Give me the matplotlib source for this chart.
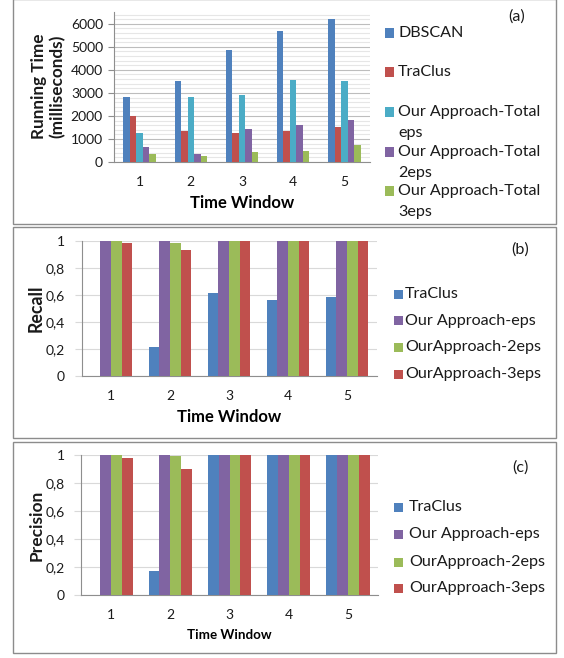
import matplotlib
matplotlib.use("Agg")
import matplotlib.pyplot as plt
from matplotlib.patches import Rectangle
import numpy as np

plt.rcParams['font.family'] = ['Lato', 'DejaVu Sans']

# ---- data -------------------------------------------------------------
windows = ["1", "2", "3", "4", "5"]

# (a) running time in milliseconds
rt_names = ["DBSCAN", "TraClus", "Our Approach-Total\neps",
            "Our Approach-Total\n2eps", "Our Approach-Total\n3eps"]
rt_dbscan = [2830, 3530, 4870, 5700, 6190]
rt_traclus = [2000, 1350, 1260, 1330, 1540]
rt_total_eps = [1280, 2810, 2910, 3570, 3520]
rt_total_2eps = [650, 360, 1430, 1610, 1830]
rt_total_3eps = [350, 280, 430, 490, 740]

# (b) recall and (c) precision
q_names = ["TraClus", "Our Approach-eps", "OurApproach-2eps", "OurApproach-3eps"]
recall_traclus = [0.0, 0.214, 0.616, 0.564, 0.584]
recall_eps = [1, 1, 1, 1, 1]
recall_2eps = [1, 0.983, 1, 1, 1]
recall_3eps = [0.98, 0.929, 1, 1, 1]

precision_traclus = [0.0, 0.174, 1, 1, 1]
precision_eps = [1, 1, 1, 1, 1]
precision_2eps = [1, 0.995, 1, 1, 1]
precision_3eps = [0.981, 0.90, 1, 1, 1]

frac_ticks = [0, 0.2, 0.4, 0.6, 0.8, 1.0]
frac_labels = ["0", "0,2", "0,4", "0,6", "0,8", "1"]

# ---- styling ------------------------------------------------------------
BLUE, RED, CYAN, PURPLE, GREEN = "#4F81BD", "#C0504D", "#4BACC6", "#8064A2", "#9BBB59"
rt_colors = [BLUE, RED, CYAN, PURPLE, GREEN]
q_colors = [BLUE, PURPLE, GREEN, RED]
AXIS_GREY = "#8e8e8e"
GRID_GREY = "#d9d9d9"
TICK_SIZE = 10
LEG_SIZE = 11.6
TXT = "#1a1a1a"

W, H = 564, 658
fig = plt.figure(figsize=(W / 100, H / 100), dpi=100)


def fx(px):
    return px / W


def fy(py):
    return 1 - py / H


def add_axes_px(left, right, top, bottom):
    return fig.add_axes([fx(left), fy(bottom), (right - left) / W, (bottom - top) / H])


def draw_groups(ax, series, colors, width, tick_pad):
    x = np.arange(len(windows)) + 0.5
    n = len(series)
    for i, (vals, c) in enumerate(zip(series, colors)):
        ax.bar(x + (i - (n - 1) / 2) * width, vals, width=width, color=c,
               linewidth=0, zorder=3)
    ax.set_xlim(0, len(windows))
    ax.set_xticks(x)
    ax.set_xticklabels(windows, fontsize=TICK_SIZE, color=TXT)
    ax.tick_params(axis="x", length=0, pad=tick_pad)
    for s in ("top", "right"):
        ax.spines[s].set_visible(False)
    for s in ("left", "bottom"):
        ax.spines[s].set_color(AXIS_GREY)
        ax.spines[s].set_linewidth(0.8)


def panel_box(top, bottom, left=13, right=556):
    fig.add_artist(Rectangle((fx(left), fy(bottom)), (right - left) / W, (bottom - top) / H,
                             transform=fig.transFigure, fill=False,
                             edgecolor="#8c8c8c", linewidth=1.0))


def legend_px(x_sq, x_txt, ys, names, colors, size, sq=9, line_gap=21):
    for y, name, c in zip(ys, names, colors):
        fig.add_artist(Rectangle((fx(x_sq), fy(y + sq / 2)), sq / W, sq / H,
                                 transform=fig.transFigure, color=c, linewidth=0))
        for k, line in enumerate(name.split("\n")):
            fig.text(fx(x_txt), fy(y + k * line_gap), line, fontsize=size,
                     va="center", ha="left", color=TXT)


# ---- panel (a): running time ---------------------------------------------
panel_box(-1, 224)
ax_a = add_axes_px(114, 370, 12.3, 162)
draw_groups(ax_a, [rt_dbscan, rt_traclus, rt_total_eps, rt_total_2eps, rt_total_3eps],
            rt_colors, 0.127, tick_pad=10)
ax_a.set_ylim(0, 6500)
ax_a.set_yticks(range(0, 7000, 1000))
ax_a.set_yticklabels([str(v) for v in range(0, 7000, 1000)], fontsize=TICK_SIZE, color=TXT)
ax_a.set_yticks(range(200, 6500, 200), minor=True)
ax_a.tick_params(axis="y", which="major", length=4, color=AXIS_GREY, pad=4)
ax_a.tick_params(axis="y", which="minor", length=0)
ax_a.grid(axis="y", which="major", color="#bdbdbd", linewidth=0.8, zorder=0)
ax_a.grid(axis="y", which="minor", color="#e6e6e6", linewidth=0.8, zorder=0)
ax_a.set_axisbelow(True)
ax_a.set_xlabel("Time Window", fontsize=12, fontweight="bold", labelpad=5)
fig.text(fx(48.5), fy(86), "Running Time\n(milliseconds)", rotation=90, fontsize=12.3,
         fontweight="bold", ha="center", va="center", linespacing=1.15, color=TXT)
legend_px(385, 398, [33, 72, 112, 152, 191], rt_names, rt_colors, LEG_SIZE)
fig.text(fx(517), fy(17), "(a)", fontsize=LEG_SIZE, ha="center", va="center", color=TXT)

# ---- panel (b): recall ---------------------------------------------------
panel_box(227, 438)
ax_b = add_axes_px(81.5, 376.5, 240.7, 376)
draw_groups(ax_b, [recall_traclus, recall_eps, recall_2eps, recall_3eps], q_colors, 0.182,
            tick_pad=10)
ax_b.set_ylim(0, 1)
ax_b.set_yticks(frac_ticks)
ax_b.set_yticklabels(frac_labels, fontsize=TICK_SIZE, color=TXT)
ax_b.tick_params(axis="y", length=5, color=GRID_GREY, pad=7)
ax_b.grid(axis="y", color=GRID_GREY, linewidth=0.8, zorder=0)
ax_b.set_axisbelow(True)
ax_b.set_xlabel("Time Window", fontsize=12, fontweight="bold", labelpad=5)
ax_b.set_ylabel("Recall", fontsize=12.8, fontweight="bold", color=TXT)
ax_b.yaxis.set_label_coords(-0.124, 0.5)
legend_px(393.5, 405, [294, 320.7, 347.3, 374], q_names, q_colors, LEG_SIZE)
fig.text(fx(520), fy(250), "(b)", fontsize=LEG_SIZE, ha="center", va="center", color=TXT)

# ---- panel (c): precision ------------------------------------------------
panel_box(442, 653)
ax_c = add_axes_px(81.4, 377.6, 455.3, 595)
draw_groups(ax_c, [precision_traclus, precision_eps, precision_2eps, precision_3eps],
            q_colors, 0.182, tick_pad=10)
ax_c.set_ylim(0, 1)
ax_c.set_yticks(frac_ticks)
ax_c.set_yticklabels(frac_labels, fontsize=TICK_SIZE, color=TXT)
ax_c.tick_params(axis="y", length=5, color=GRID_GREY, pad=7)
ax_c.grid(axis="y", color=GRID_GREY, linewidth=0.8, zorder=0)
ax_c.set_axisbelow(True)
ax_c.set_xlabel("Time Window", fontsize=9.6, fontweight="bold", labelpad=6)
ax_c.set_ylabel("Precision", fontsize=12.5, fontweight="bold", color=TXT)
ax_c.yaxis.set_label_coords(-0.123, 0.5)
legend_px(394, 409, [507, 534, 562, 588], q_names, q_colors, LEG_SIZE)
fig.text(fx(520), fy(468), "(c)", fontsize=LEG_SIZE, ha="center", va="center", color=TXT)

fig.savefig("out.png", dpi=100, facecolor="white")
